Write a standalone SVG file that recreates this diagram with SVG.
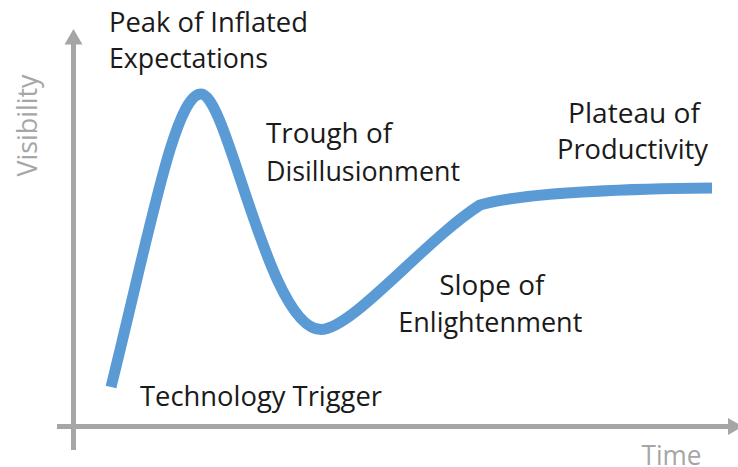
<svg xmlns="http://www.w3.org/2000/svg" width="738" height="467" viewBox="0 0 738 467">
  <style>
    .lbl { font-family: "Open Sans", "Noto Sans", "Liberation Sans", sans-serif; font-size: 27px; fill: #1a1a1a; }
    .axlbl { font-family: "Open Sans", "Noto Sans", "Liberation Sans", sans-serif; font-size: 27px; fill: #a6a6a6; }
    .axis { stroke: #a6a6a6; stroke-width: 5; fill: none; }
    .head { fill: #a6a6a6; }
    .curve { stroke: #5b9bd5; stroke-width: 11; fill: none; stroke-linecap: butt; stroke-linejoin: round; }
  </style>
  <rect width="738" height="467" fill="#ffffff"/>
  <g id="axes">
    <line class="axis" x1="73.5" y1="450" x2="73.5" y2="43"/>
    <polygon class="head" points="64.5,44.5 82.5,44.5 73.5,29"/>
    <line class="axis" x1="57" y1="426.5" x2="729" y2="426.5"/>
    <polygon class="head" points="728,418 728,435 743,426.5"/>
    <text class="axlbl" transform="translate(36.5,176.5) rotate(-90)" x="0" y="0" textLength="102" lengthAdjust="spacingAndGlyphs">Visibility</text>
    <text class="axlbl" x="641.5" y="464.5" textLength="60" lengthAdjust="spacingAndGlyphs">Time</text>
  </g>
  <g id="connectors">
    <path id="hype-curve" class="curve" d="M111,387 C150,230 175,94 201,94 C228,94 268,329.5 321,329.5 C352,329.5 425,240 480,205 C515,195 600,189 712,188"/>
  </g>
  <g id="node-peak">
    <text class="lbl" x="109" y="31.5" textLength="199" lengthAdjust="spacingAndGlyphs">Peak of Inflated</text>
    <text class="lbl" x="109" y="68" textLength="159" lengthAdjust="spacingAndGlyphs">Expectations</text>
  </g>
  <g id="node-trough">
    <text class="lbl" x="266" y="143" textLength="126" lengthAdjust="spacingAndGlyphs">Trough of</text>
    <text class="lbl" x="266" y="180.5" textLength="194" lengthAdjust="spacingAndGlyphs">Disillusionment</text>
  </g>
  <g id="node-slope">
    <text class="lbl" x="439.3" y="295" textLength="105" lengthAdjust="spacingAndGlyphs">Slope of</text>
    <text class="lbl" x="398.3" y="331.7" textLength="184" lengthAdjust="spacingAndGlyphs">Enlightenment</text>
  </g>
  <g id="node-plateau">
    <text class="lbl" x="568" y="123" textLength="132" lengthAdjust="spacingAndGlyphs">Plateau of</text>
    <text class="lbl" x="557" y="159" textLength="151" lengthAdjust="spacingAndGlyphs">Productivity</text>
  </g>
  <g id="node-trigger">
    <text class="lbl" x="140" y="406" textLength="242" lengthAdjust="spacingAndGlyphs">Technology Trigger</text>
  </g>
</svg>
